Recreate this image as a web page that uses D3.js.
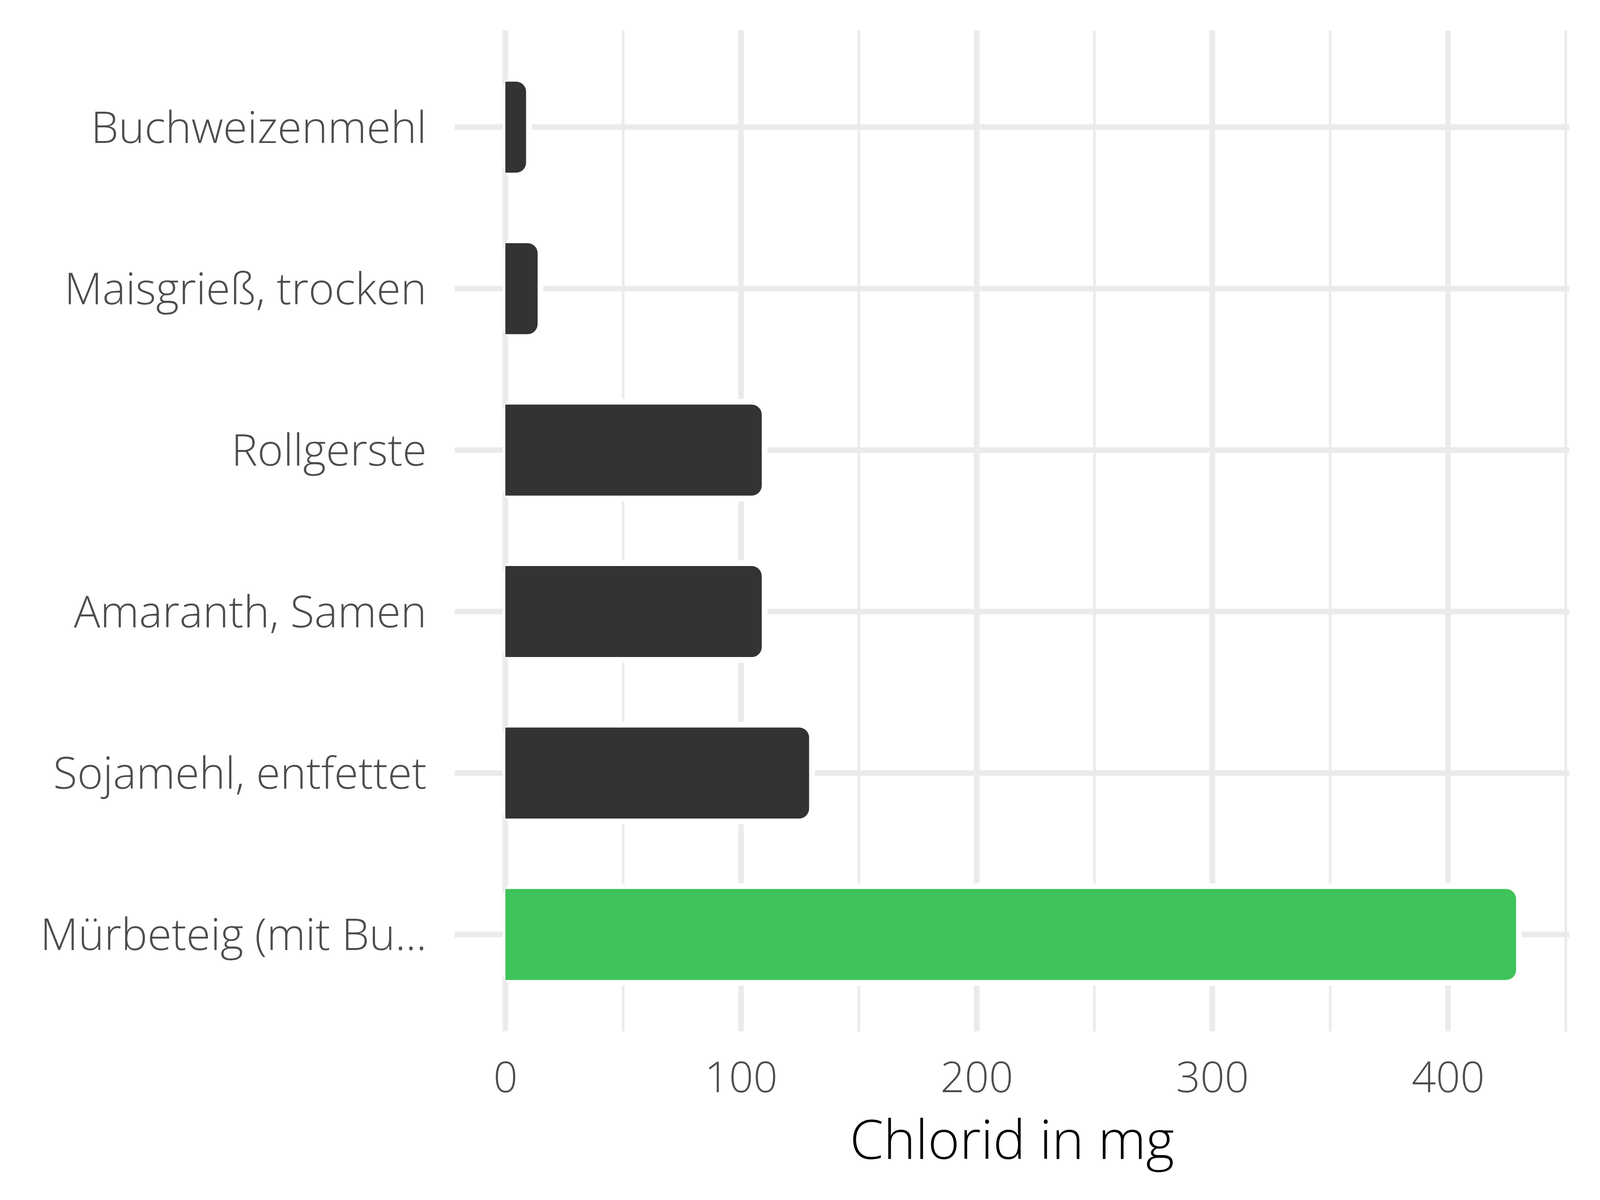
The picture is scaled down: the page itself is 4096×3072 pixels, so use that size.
<!DOCTYPE html>
<html>
<head>
<meta charset="utf-8">
<script src="https://cdn.jsdelivr.net/npm/d3@7"></script>
<style>
  html, body { margin: 0; padding: 0; background: #ffffff; }
  svg { display: block; }
  text { font-family: "Open Sans", "Noto Sans", sans-serif; font-weight: 300; }
</style>
</head>
<body>
<script>
// ---- data ----
const categories = ["Buchweizenmehl", "Maisgrieß, trocken", "Rollgerste", "Amaranth, Samen", "Sojamehl, entfettet", "Mürbeteig (mit Bu..."];
const values = [8.8, 13.7, 108.8, 108.8, 128.9, 428.9];
const highlighted = [false, false, false, false, false, true];
const xTicks = [0, 100, 200, 300, 400];
const xMinorTicks = [50, 150, 250, 350, 450];
const xTitle = "Chlorid in mg";

// ---- layout (reference pixel units, scaled to window) ----
const W = 4096, H = 3072;
const k = W / 4800;
const panel = { left: 1364, right: 4708, top: 91, bottom: 3094 };
const gridCol = "#EBEBEB";
const barCol = "#333333";
const hiCol = "#3EC35A";
const textCol = "#4D4D4D";

const svg = d3.select("body").append("svg").attr("width", W).attr("height", H);
svg.append("rect").attr("width", W).attr("height", H).attr("fill", "#ffffff");
const g = svg.append("g").attr("transform", `scale(${k})`);

const x = d3.scaleLinear().domain([-21.5, 451.5]).range([panel.left, panel.right]);
const y = d3.scaleBand().domain(categories).range([panel.top, panel.bottom])
  .paddingInner(0.4364).paddingOuter(0.318);

// grid
const grid = g.append("g");
grid.selectAll("line.minor").data(xMinorTicks).join("line").attr("class", "minor")
  .attr("x1", d => x(d)).attr("x2", d => x(d))
  .attr("y1", panel.top).attr("y2", panel.bottom)
  .attr("stroke", gridCol).attr("stroke-width", 8);
grid.selectAll("line.majorx").data(xTicks).join("line").attr("class", "majorx")
  .attr("x1", d => x(d)).attr("x2", d => x(d))
  .attr("y1", panel.top).attr("y2", panel.bottom)
  .attr("stroke", gridCol).attr("stroke-width", 17);
grid.selectAll("line.majory").data(categories).join("line").attr("class", "majory")
  .attr("x1", panel.left).attr("x2", panel.right)
  .attr("y1", d => y(d) + y.bandwidth() / 2).attr("y2", d => y(d) + y.bandwidth() / 2)
  .attr("stroke", gridCol).attr("stroke-width", 17);

// bars
const r = 30;
function barPath(x0, x1, y0, y1, rad) {
  const rr = Math.min(rad, (x1 - x0), (y1 - y0) / 2);
  return `M${x0},${y0} L${x1 - rr},${y0} A${rr},${rr} 0 0 1 ${x1},${y0 + rr} ` +
         `L${x1},${y1 - rr} A${rr},${rr} 0 0 1 ${x1 - rr},${y1} L${x0},${y1} Z`;
}
const data = categories.map((c, i) => ({ c, v: values[i], h: highlighted[i] }));
const bars = g.append("g");
bars.selectAll("rect.halo").data(data).join("rect").attr("class", "halo")
  .attr("x", x(0) - 8)
  .attr("y", d => y(d.c) - 17)
  .attr("width", d => x(d.v) - x(0) + 25)
  .attr("height", y.bandwidth() + 34)
  .attr("rx", 40).attr("ry", 40)
  .attr("fill", "#ffffff");
bars.selectAll("path.bar").data(data).join("path").attr("class", "bar")
  .attr("d", d => barPath(x(0), x(d.v), y(d.c), y(d.c) + y.bandwidth(), r))
  .attr("fill", d => d.h ? hiCol : barCol);

// axes
const xAxis = g.append("g").attr("transform", `translate(0,${panel.bottom})`)
  .call(d3.axisBottom(x).tickValues(xTicks).tickSize(0).tickFormat(d3.format("d")));
xAxis.select(".domain").remove();
xAxis.attr("font-family", null).attr("font-size", null);
xAxis.selectAll("text").attr("y", 183).attr("dy", "0")
  .attr("fill", textCol).style("font-size", "128px");

const yAxis = g.append("g").attr("transform", `translate(${panel.left},0)`)
  .call(d3.axisLeft(y).tickSize(0).tickPadding(84));
yAxis.select(".domain").remove();
yAxis.attr("font-family", null).attr("font-size", null);
yAxis.selectAll("text").attr("dy", "0.355em")
  .attr("fill", textCol).style("font-size", "132px");

g.append("text")
  .attr("x", (panel.left + panel.right) / 2).attr("y", 3477)
  .attr("text-anchor", "middle")
  .attr("fill", "#000000").style("font-size", "163px")
  .text(xTitle);
</script>
</body>
</html>
